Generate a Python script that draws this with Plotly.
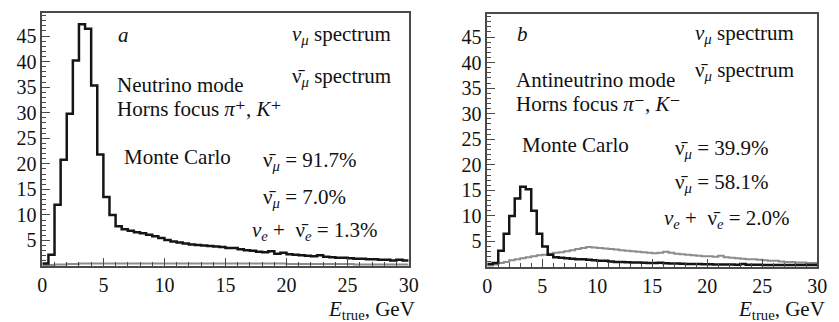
import numpy as np
import plotly.graph_objects as go
from plotly.subplots import make_subplots

# Energy binning (GeV): 0.5 GeV bins from 0 to 30
bin_width = 0.5
e_min, e_max = 0.0, 30.0

# (a) Neutrino mode: nu_mu (black) and nu_mu-bar (gray) spectra
nu_mode_numu = [
    0.5, 2.2, 12.0, 20.8, 29.8, 40.2, 47.3, 46.4, 35.3, 21.8, 13.5, 10.0,
    7.8, 7.2, 6.9, 6.6, 6.4, 6.1, 5.8, 5.5, 5.1, 4.8, 4.6, 4.4,
    4.2, 4.1, 4.0, 3.9, 3.8, 3.7, 3.5, 3.5, 3.3, 3.1, 3.0, 2.8,
    2.7, 2.9, 2.4, 2.6, 2.3, 2.2, 2.1, 2.0, 1.9, 2.1, 1.8, 1.7,
    1.6, 1.6, 1.5, 1.4, 1.4, 1.3, 1.3, 1.2, 1.2, 1.1, 1.2, 1.1,
]
nu_mode_numubar = [
    0.2, 0.2, 0.3, 0.3, 0.4, 0.4, 0.5, 0.5, 0.5, 0.5, 0.5, 0.5,
    0.5, 0.5, 0.5, 0.5, 0.5, 0.5, 0.5, 0.5, 0.5, 0.5, 0.5, 0.5,
    0.5, 0.5, 0.5, 0.5, 0.5, 0.5, 0.5, 0.5, 0.5, 0.5, 0.5, 0.5,
    0.5, 0.5, 0.5, 0.5, 0.4, 0.4, 0.4, 0.4, 0.4, 0.4, 0.4, 0.4,
    0.4, 0.4, 0.4, 0.3, 0.3, 0.3, 0.3, 0.3, 0.3, 0.3, 0.3, 0.3,
]

# (b) Antineutrino mode: nu_mu (black) and nu_mu-bar (gray) spectra
anu_mode_numu = [
    0.6, 0.8, 3.2, 6.5, 10.0, 13.4, 15.7, 15.2, 11.0, 6.5, 4.0, 2.4,
    1.9, 1.8, 1.7, 1.6, 1.5, 1.5, 1.4, 1.3, 1.2, 1.2, 1.1, 1.0,
    1.0, 0.95, 0.9, 0.9, 0.85, 0.8, 0.8, 0.85, 0.75, 0.7, 0.7, 0.65,
    0.6, 0.6, 0.6, 0.55, 0.55, 0.5, 0.5, 0.5, 0.5, 0.45, 0.6, 0.45,
    0.45, 0.45, 0.4, 0.4, 0.4, 0.4, 0.4, 0.4, 0.4, 0.4, 0.4, 0.4,
]
anu_mode_numubar = [
    0.3, 0.5, 0.8, 1.0, 1.3, 1.5, 1.7, 1.9, 2.1, 2.3, 2.4, 2.6,
    2.8, 2.9, 3.1, 3.3, 3.5, 3.7, 3.9, 3.8, 3.7, 3.6, 3.5, 3.4,
    3.3, 3.2, 3.1, 3.0, 2.9, 2.8, 2.7, 2.8, 3.0, 2.8, 2.6, 2.5,
    2.4, 2.3, 2.2, 2.1, 2.1, 2.0, 2.2, 1.9, 1.8, 1.7, 1.6, 1.5,
    1.5, 1.4, 1.3, 1.2, 1.2, 1.1, 1.0, 1.0, 0.9, 0.9, 0.8, 0.8,
]

x_ticks = [0, 5, 10, 15, 20, 25, 30]
y_ticks = [5, 10, 15, 20, 25, 30, 35, 40, 45]

edges = np.arange(e_min, e_max + bin_width / 2, bin_width)

BLACK = "#151515"
GRAY = "#8c8c8c"
FRAME = "#4a4a4a"
FONT = "Liberation Serif, DejaVu Serif, Times New Roman, serif"

W, H = 839, 322
fig = make_subplots(rows=1, cols=2, horizontal_spacing=0.05)


def step_trace(values, color, width):
    y = list(values) + [values[-1]]
    return go.Scatter(x=edges, y=y, mode="lines", line_shape="hv",
                      line=dict(color=color, width=width),
                      hoverinfo="skip", showlegend=False)


fig.add_trace(step_trace(nu_mode_numubar, GRAY, 2), row=1, col=1)
fig.add_trace(step_trace(nu_mode_numu, BLACK, 2.5), row=1, col=1)
fig.add_trace(step_trace(anu_mode_numubar, GRAY, 2), row=1, col=2)
fig.add_trace(step_trace(anu_mode_numu, BLACK, 2.5), row=1, col=2)

axis_common = dict(
    showgrid=False, zeroline=False, showline=True, mirror=True,
    linecolor=FRAME, linewidth=1.5, ticks="inside", tickcolor=FRAME,
    tickwidth=1, tickfont=dict(family=FONT, size=20, color="#111"),
)

# pixel geometry of the two frames
left_box = dict(x0=38, x1=411, y0=13, y1=266)
right_box = dict(x0=491, x1=827, y0=14, y1=267)

for i, box in ((1, left_box), (2, right_box)):
    xa = "xaxis" if i == 1 else "xaxis2"
    ya = "yaxis" if i == 1 else "yaxis2"
    fig.layout[xa].update(
        domain=[box["x0"] / W, box["x1"] / W], range=[e_min, e_max],
        tickvals=x_ticks, ticklen=8,
        minor=dict(dtick=1, ticklen=4, ticks="inside", tickcolor=FRAME),
        **axis_common)
    fig.layout[ya].update(
        domain=[1 - box["y1"] / H, 1 - box["y0"] / H], range=[0, 49.5],
        tickvals=y_ticks, ticklen=8,
        minor=dict(dtick=1, ticklen=4, ticks="inside", tickcolor=FRAME),
        **axis_common)

NU = "<i>\u03bd</i>"
NUBAR = "\u03bd\u0304"
MU = "<sub><i>\u03bc</i></sub>"
E = "<sub><i>e</i></sub>"

texts = [
    # (axis suffix, x, y, text, xanchor)
    ("", 6.1, 45.1, "<i>a</i>", "left"),
    ("", 28.6, 45.1, NU + MU + " spectrum", "right"),
    ("", 28.6, 37.0, NUBAR + MU + " spectrum", "right"),
    ("", 6.0, 35.4, "Neutrino mode", "left"),
    ("", 6.0, 30.7, "Horns focus <i>\u03c0\u207a</i>, <i>K\u207a</i>", "left"),
    ("", 6.6, 21.3, "Monte Carlo", "left"),
    ("", 18.0, 20.5, NUBAR + MU + " = 91.7%", "left"),
    ("", 18.0, 13.3, NUBAR + MU + " = 7.0%", "left"),
    ("", 17.1, 6.8, NU + E + " +  " + NUBAR + E + " = 1.3%", "left"),
    ("2", 2.6, 45.6, "<i>b</i>", "left"),
    ("2", 28.0, 45.6, NU + MU + " spectrum", "right"),
    ("2", 28.0, 38.4, NUBAR + MU + " spectrum", "right"),
    ("2", 2.5, 36.5, "Antineutrino mode", "left"),
    ("2", 2.5, 31.8, "Horns focus <i>\u03c0\u207b</i>, <i>K\u207b</i>", "left"),
    ("2", 3.1, 23.8, "Monte Carlo", "left"),
    ("2", 17.0, 23.0, NUBAR + MU + " = 39.9%", "left"),
    ("2", 17.0, 16.4, NUBAR + MU + " = 58.1%", "left"),
    ("2", 16.0, 9.4, NU + E + " +  " + NUBAR + E + " = 2.0%", "left"),
]
for ax, x, y, t, xa in texts:
    fig.add_annotation(x=x, y=y, xref="x" + ax, yref="y" + ax, text=t,
                       showarrow=False, xanchor=xa, yanchor="middle",
                       borderpad=0,
                       font=dict(family=FONT, size=21, color="#111"))

# axis titles, right-aligned under each frame
for xr in (418 / W, 836 / W):
    fig.add_annotation(x=xr, y=1 - 310 / H, xref="paper", yref="paper",
                       text="<i>E</i><sub>true</sub>, GeV", showarrow=False,
                       xanchor="right", yanchor="middle", borderpad=0,
                       font=dict(family=FONT, size=21, color="#111"))

fig.update_layout(width=W, height=H, margin=dict(l=0, r=0, t=0, b=0),
                  paper_bgcolor="white", plot_bgcolor="white",
                  font=dict(family=FONT))

fig.write_html("out.html")
